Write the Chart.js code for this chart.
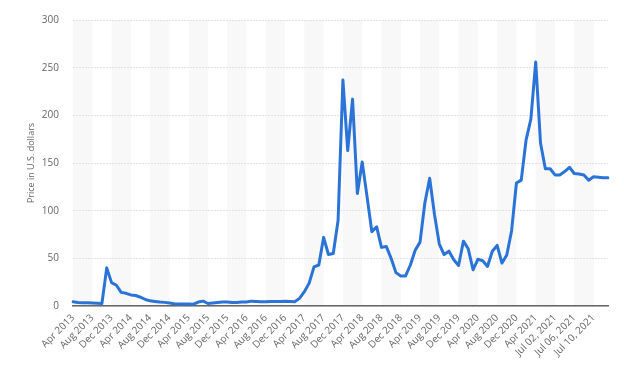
<!DOCTYPE html>
<html>
<head>
<meta charset="utf-8">
<script src="https://cdn.jsdelivr.net/npm/chart.js@4.4.1/dist/chart.umd.min.js"></script>
<style>
  html, body { margin: 0; padding: 0; background: #fff; }
  #wrap { position: relative; width: 624px; height: 367px; }
</style>
</head>
<body>
<div id="wrap">
  <canvas id="myChart" width="624" height="367"></canvas>
</div>
<script>
// categories: monthly from Apr 2013 to Jun 2021, then daily in July 2021
const categories = [
  'Apr 2013', 'May 2013', 'Jun 2013', 'Jul 2013', 'Aug 2013', 'Sep 2013', 'Oct 2013', 'Nov 2013', 'Dec 2013',
  'Jan 2014', 'Feb 2014', 'Mar 2014', 'Apr 2014', 'May 2014', 'Jun 2014', 'Jul 2014', 'Aug 2014', 'Sep 2014', 'Oct 2014', 'Nov 2014', 'Dec 2014',
  'Jan 2015', 'Feb 2015', 'Mar 2015', 'Apr 2015', 'May 2015', 'Jun 2015', 'Jul 2015', 'Aug 2015', 'Sep 2015', 'Oct 2015', 'Nov 2015', 'Dec 2015',
  'Jan 2016', 'Feb 2016', 'Mar 2016', 'Apr 2016', 'May 2016', 'Jun 2016', 'Jul 2016', 'Aug 2016', 'Sep 2016', 'Oct 2016', 'Nov 2016', 'Dec 2016',
  'Jan 2017', 'Feb 2017', 'Mar 2017', 'Apr 2017', 'May 2017', 'Jun 2017', 'Jul 2017', 'Aug 2017', 'Sep 2017', 'Oct 2017', 'Nov 2017', 'Dec 2017',
  'Jan 2018', 'Feb 2018', 'Mar 2018', 'Apr 2018', 'May 2018', 'Jun 2018', 'Jul 2018', 'Aug 2018', 'Sep 2018', 'Oct 2018', 'Nov 2018', 'Dec 2018',
  'Jan 2019', 'Feb 2019', 'Mar 2019', 'Apr 2019', 'May 2019', 'Jun 2019', 'Jul 2019', 'Aug 2019', 'Sep 2019', 'Oct 2019', 'Nov 2019', 'Dec 2019',
  'Jan 2020', 'Feb 2020', 'Mar 2020', 'Apr 2020', 'May 2020', 'Jun 2020', 'Jul 2020', 'Aug 2020', 'Sep 2020', 'Oct 2020', 'Nov 2020', 'Dec 2020',
  'Jan 2021', 'Feb 2021', 'Mar 2021', 'Apr 2021', 'May 2021', 'Jun 2021',
  'Jul 01, 2021', 'Jul 02, 2021', 'Jul 03, 2021', 'Jul 04, 2021', 'Jul 05, 2021', 'Jul 06, 2021', 'Jul 07, 2021',
  'Jul 08, 2021', 'Jul 09, 2021', 'Jul 10, 2021', 'Jul 11, 2021', 'Jul 12, 2021', 'Jul 13, 2021'
];

// price in U.S. dollars
const prices = [
  4.5, 3.6, 3.4, 3.3, 3.2, 3.0, 2.6, 40, 24.5, 21.8,
  14.3, 13.3, 11.6, 11, 9.2, 6.8, 5.4, 4.8, 4.1, 3.8,
  3.1, 2.4, 2.0, 2.0, 2.0, 1.9, 4.1, 5.1, 2.6, 3.1,
  3.7, 4.1, 4.1, 3.7, 3.7, 4.1, 4.1, 5.1, 4.8, 4.4,
  4.4, 4.8, 4.8, 4.8, 5.1, 4.8, 4.4, 8, 15, 24,
  41, 43, 72, 54, 55, 90, 237, 163, 217, 118,
  151, 115, 78, 83, 61.5, 62.5, 50, 35, 31.5, 31.5,
  43, 58.5, 67, 108, 134, 96, 65, 54, 57.5, 48.5,
  42.5, 68, 60, 38, 49, 47.5, 41.5, 57.5, 63.5, 45,
  53.5, 79, 129, 132, 174, 196, 256, 171, 144, 144,
  137.5, 137.5, 141, 145.5, 139, 138.5, 137.5, 132, 135.5, 135,
  134.5, 134.5
];

// y axis ticks
const yTicks = [0, 50, 100, 150, 200, 250, 300];
const labelEvery = 4;

// alternating grey column bands, drawn under the grid and axis line
const bandsPlugin = {
  id: 'bands',
  beforeDraw(chart) {
    const { ctx, chartArea, scales } = chart;
    const x = scales.x;
    ctx.save();
    ctx.fillStyle = '#f8f8f9';
    for (let i = 0; i < categories.length; i += labelEvery * 2) {
      const x0 = x.getPixelForValue(i);
      const x1 = x.getPixelForValue(Math.min(i + labelEvery, categories.length - 1));
      ctx.fillRect(x0, chartArea.top, x1 - x0, chartArea.bottom - chartArea.top);
    }
    ctx.restore();
  }
};

const ctx = document.getElementById('myChart');

new Chart(ctx, {
  type: 'line',
  data: {
    labels: categories,
    datasets: [{
      data: prices,
      borderColor: '#2a74d8',
      borderWidth: 3,
      pointRadius: 0,
      tension: 0,
      borderJoinStyle: 'round',
      borderCapStyle: 'round',
      fill: false
    }]
  },
  options: {
    responsive: false,
    animation: false,
    layout: { padding: { left: 0, right: 16, top: 12, bottom: 0 } },
    plugins: {
      legend: { display: false },
      tooltip: { enabled: false }
    },
    scales: {
      x: {
        grid: { display: false, drawTicks: false },
        border: { display: true, color: '#666', width: 1.5 },
        ticks: {
          autoSkip: false,
          maxRotation: 45,
          minRotation: 45,
          padding: 6,
          color: '#666',
          font: { family: 'Open Sans', size: 10 },
          callback(val, idx) {
            return idx % labelEvery === 0 ? this.getLabelForValue(val) : '';
          }
        },
        afterFit(scale) { scale.height = 61; }
      },
      y: {
        min: yTicks[0],
        max: yTicks[yTicks.length - 1],
        afterBuildTicks(scale) { scale.ticks = yTicks.map(v => ({ value: v })); },
        grid: { color: '#e2e2e2', drawTicks: false },
        border: { display: false, dash: [2, 1] },
        ticks: {
          padding: 14,
          color: '#666',
          font: { family: 'Open Sans', size: 10 }
        },
        title: {
          display: true,
          text: 'Price in U.S. dollars',
          color: '#666',
          font: { family: 'Open Sans', size: 9 },
          padding: { top: 26, bottom: 0 }
        },
        afterFit(scale) { scale.width = 73; }
      }
    }
  },
  plugins: [bandsPlugin]
});
</script>
</body>
</html>
